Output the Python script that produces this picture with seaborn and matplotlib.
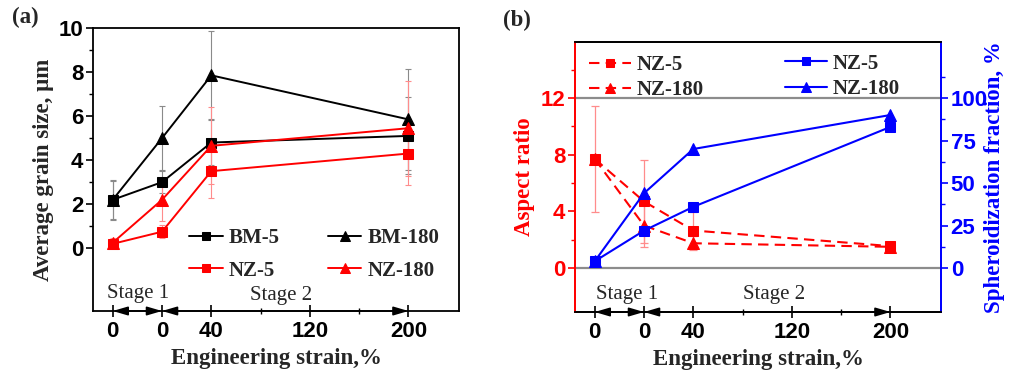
import matplotlib
matplotlib.use("Agg")
import matplotlib.pyplot as plt
import seaborn as sns
from matplotlib.ticker import FixedLocator

# ---------------- data ----------------
strain_x = [-40, 0, 40, 200]          # plotted positions (first 0 = stage 1 start)
tick_pos = [-40, 0, 40, 120, 200]
tick_labels = ["0", "0", "40", "120", "200"]

# panel (a): average grain size, um
bm5 = [2.2, 3.0, 4.8, 5.1]
bm5_err = [0.85, 0.5, 1.0, 1.75]
bm180 = [2.2, 5.0, 7.85, 5.85]
bm180_err = [0.9, 1.45, 2.0, 2.3]
nz5 = [0.2, 0.75, 3.5, 4.3]
nz5_err = [0.2, 0.3, 1.2, 1.45]
nz180 = [0.25, 2.2, 4.65, 5.45]
nz180_err = [0.2, 0.95, 1.75, 2.15]

# panel (b): aspect ratio (left) and spheroidization fraction (right)
ar_nz5 = [7.7, 4.7, 2.65, 1.55]
ar_nz5_err = [3.75, 2.9, 1.3, 0.3]
ar_nz180 = [7.7, 3.0, 1.75, 1.5]
ar_nz180_err = [0.3, 1.5, 0.5, 0.3]
sph_nz5 = [4, 22, 36, 83]
sph_nz180 = [4, 44, 70, 90]

# ---------------- style ----------------
sns.set_theme(style="ticks")
plt.rcParams['font.family'] = ['Liberation Sans', 'DejaVu Sans']
plt.rcParams['axes.edgecolor'] = 'black'
plt.rcParams['xtick.color'] = 'black'
plt.rcParams['ytick.color'] = 'black'
plt.rcParams['axes.linewidth'] = 1.3

SERIF = ['Liberation Serif', 'DejaVu Serif']
TICKFS = 16
LABFS = 16.5
LEGFS = 15
RED = '#ff0000'
BLUE = '#0000ff'
MS_SQ = 7
MS_TRI = 8.5

fig = plt.figure(figsize=(10.09, 3.74), dpi=100)
axa = fig.add_axes([93/1009, 1-311/374, 366/1009, 283/374])
axb = fig.add_axes([575/1009, 1-312/374, 366/1009, 270/374])


def style_x(ax, ylo):
    ax.set_xlim(-56, 241)
    ax.set_xticks(tick_pos)
    ax.set_xticklabels(tick_labels, fontsize=TICKFS, fontweight='bold')
    ax.xaxis.set_minor_locator(FixedLocator([80, 160]))
    ax.tick_params(axis='x', which='major', direction='inout', length=9, width=1.2, pad=3)
    ax.tick_params(axis='x', which='minor', direction='inout', length=5, width=1.0)
    ax.tick_params(axis='x', top=False, which='both')
    ax.set_xlabel("Engineering strain,%", family=SERIF, fontweight='bold', fontsize=LABFS, labelpad=4)
    ap = dict(arrowstyle='<|-|>,head_length=0.75,head_width=0.22', color='black', lw=1.2,
              shrinkA=0, shrinkB=0)
    ax.annotate('', xy=(-40, ylo), xytext=(0, ylo), xycoords='data', arrowprops=ap,
                annotation_clip=False, zorder=5)
    ax.annotate('', xy=(0, ylo), xytext=(200, ylo), xycoords='data', arrowprops=ap,
                annotation_clip=False, zorder=5)


# ---------------- panel (a) ----------------
ylo_a = -2.85
axa.set_ylim(ylo_a, 10.0)
for vals, err, ec in [(bm5, bm5_err, '#8a8a8a'), (bm180, bm180_err, '#8a8a8a'),
                      (nz5, nz5_err, '#ff8c8c'), (nz180, nz180_err, '#ff8c8c')]:
    axa.errorbar(strain_x, vals, yerr=err, fmt='none', ecolor=ec, elinewidth=0.8,
                 capsize=2.5, capthick=0.8, zorder=1)

sns.lineplot(x=strain_x, y=bm5, ax=axa, color='black', marker='s', markersize=MS_SQ,
             markeredgecolor='black', linewidth=1.4, label='BM-5', zorder=3)
sns.lineplot(x=strain_x, y=bm180, ax=axa, color='black', marker='^', markersize=MS_TRI,
             markeredgecolor='black', linewidth=1.4, label='BM-180', zorder=3)
sns.lineplot(x=strain_x, y=nz5, ax=axa, color=RED, marker='s', markersize=MS_SQ,
             markeredgecolor=RED, linewidth=1.4, label='NZ-5', zorder=3)
sns.lineplot(x=strain_x, y=nz180, ax=axa, color=RED, marker='^', markersize=MS_TRI,
             markeredgecolor=RED, linewidth=1.4, label='NZ-180', zorder=3)

h, l = axa.get_legend_handles_labels()
order = [0, 2, 1, 3]
axa.legend([h[i] for i in order], [l[i] for i in order], ncol=2, loc='upper left',
           bbox_to_anchor=(0.235, 0.33), frameon=False, borderpad=0, handlelength=1.6,
           handletextpad=0.3, columnspacing=2.3, labelspacing=0.6, markerscale=0.85,
           prop=dict(family=SERIF, weight='bold', size=LEGFS))

axa.set_yticks([0, 2, 4, 6, 8, 10])
axa.set_yticklabels(["0", "2", "4", "6", "8", "10"], fontsize=TICKFS, fontweight='bold')
axa.yaxis.set_minor_locator(FixedLocator([1, 3, 5, 7, 9]))
axa.tick_params(axis='y', which='major', direction='out', length=5, width=1.2, pad=2)
axa.tick_params(axis='y', which='minor', direction='out', length=3, width=1.0, left=True)
axa.set_ylabel("Average grain size, μm", family=SERIF, fontweight='bold', fontsize=LABFS, labelpad=3)
style_x(axa, ylo_a)
axa.text(-45, -2.05, "Stage 1", family=SERIF, fontsize=15, ha='left', va='center')
axa.text(71, -2.15, "Stage 2", family=SERIF, fontsize=15, ha='left', va='center')

# ---------------- panel (b) ----------------
ylo_b = -3.1
yhi_b = 15.95
axb.set_ylim(ylo_b, yhi_b)
axb.axhline(0, color='#8c8c8c', lw=1.6, zorder=1)
axb.axhline(12, color='#8c8c8c', lw=1.6, zorder=1)
for vals, err in [(ar_nz5, ar_nz5_err), (ar_nz180, ar_nz180_err)]:
    axb.errorbar(strain_x, vals, yerr=err, fmt='none', ecolor='#ff8c8c', elinewidth=0.9,
                 capsize=3, capthick=0.9, zorder=1)
sns.lineplot(x=strain_x, y=ar_nz5, ax=axb, color=RED, marker='s', markersize=MS_SQ,
             markeredgecolor=RED, linewidth=1.5, linestyle=(0, (5, 3)), label='NZ-5', zorder=3)
sns.lineplot(x=strain_x, y=ar_nz180, ax=axb, color=RED, marker='^', markersize=MS_TRI,
             markeredgecolor=RED, linewidth=1.5, linestyle=(0, (5, 3)), label='NZ-180', zorder=3)
hb, lb = axb.get_legend_handles_labels()
axb.legend(hb, lb, loc='upper left', bbox_to_anchor=(0.01, 0.99), frameon=False,
           borderpad=0, handlelength=2.0, handletextpad=0.3, labelspacing=0.25, markerscale=0.85,
           prop=dict(family=SERIF, weight='bold', size=LEGFS))
axb.set_yticks([0, 4, 8, 12])
axb.set_yticklabels(["0", "4", "8", "12"], fontsize=TICKFS, fontweight='bold', color=RED)
axb.yaxis.set_minor_locator(FixedLocator([2, 6, 10, 14]))
axb.tick_params(axis='y', which='major', direction='out', length=5, width=1.2, pad=2, color=RED)
axb.tick_params(axis='y', which='minor', direction='out', length=3, width=1.0, left=True, color=RED)
axb.set_ylabel("Aspect ratio", family=SERIF, fontweight='bold', fontsize=LABFS, color=RED, labelpad=4)
style_x(axb, ylo_b)
axb.text(-39, -1.9, "Stage 1", family=SERIF, fontsize=15, ha='left', va='center')
axb.text(80, -1.9, "Stage 2", family=SERIF, fontsize=15, ha='left', va='center')

ax2 = axb.twinx()
ax2.set_ylim(ylo_b * 100 / 12, yhi_b * 100 / 12)
sns.lineplot(x=strain_x, y=sph_nz5, ax=ax2, color=BLUE, marker='s', markersize=MS_SQ,
             markeredgecolor=BLUE, linewidth=1.5, label='NZ-5', zorder=3)
sns.lineplot(x=strain_x, y=sph_nz180, ax=ax2, color=BLUE, marker='^', markersize=MS_TRI,
             markeredgecolor=BLUE, linewidth=1.5, label='NZ-180', zorder=3)
ax2.legend(loc='upper left', bbox_to_anchor=(0.545, 0.995), frameon=False, borderpad=0,
           handlelength=2.0, handletextpad=0.3, labelspacing=0.25, markerscale=0.85,
           prop=dict(family=SERIF, weight='bold', size=LEGFS))
ax2.set_yticks([0, 25, 50, 75, 100])
ax2.set_yticklabels(["0", "25", "50", "75", "100"], fontsize=TICKFS, fontweight='bold', color=BLUE)
ax2.yaxis.set_minor_locator(FixedLocator([12.5, 37.5, 62.5, 87.5, 112.5]))
ax2.tick_params(axis='y', which='major', direction='out', length=5, width=1.2, pad=2, color=BLUE,
                right=True, left=False)
ax2.tick_params(axis='y', which='minor', direction='out', length=3, width=1.0, color=BLUE,
                right=True, left=False)
ax2.set_ylabel("Spheroidization fraction, %", family=SERIF, fontweight='bold', fontsize=LABFS,
               color=BLUE, rotation=90, va='center')
ax2.yaxis.set_label_coords((995 - 575) / 366, 0.5)
for ax in (axb, ax2):
    ax.spines['left'].set_color(RED)
    ax.spines['right'].set_color(BLUE)
    ax.spines['top'].set_color('black')
    ax.spines['bottom'].set_color('black')

fig.text(12/1009, 1-17/374, "(a)", family=SERIF, fontweight='bold', fontsize=16.5, va='center')
fig.text(503/1009, 1-20/374, "(b)", family=SERIF, fontweight='bold', fontsize=16.5, va='center')

fig.savefig("out.png", dpi=100)
